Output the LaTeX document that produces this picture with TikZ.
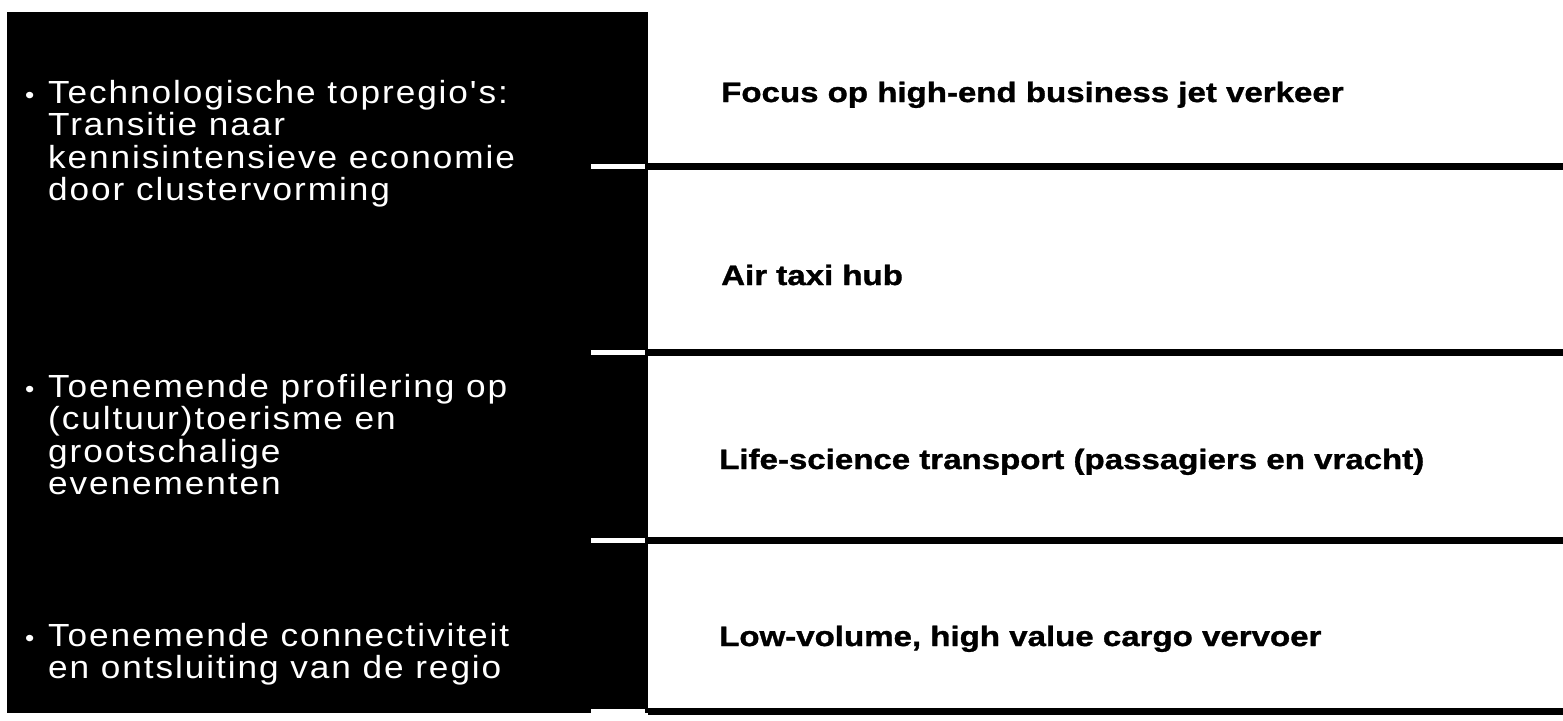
\documentclass[tikz,border=0pt]{standalone}
\usepackage{fontspec}
\setmainfont{Liberation Sans}
\newfontfamily\leftfont[LetterSpace=6,FakeStretch=1.1]{Liberation Sans}
\newfontfamily\rightfont[FakeStretch=1.18,FakeBold=1.2]{Liberation Sans}
\tikzset{
  panel/.style={fill=black, draw=none, inner sep=0pt, anchor=north west},
  bulletmark/.style={text=white, inner sep=0pt, anchor=base west, font=\leftfont\fontsize{24}{32}\selectfont},
  lefttxt/.style={text=white, inner sep=0pt, anchor=base west, align=left, font=\leftfont\fontsize{32}{32.5}\selectfont},
  righttxt/.style={text=black, inner sep=0pt, anchor=base west, font=\rightfont\bfseries\fontsize{28}{32}\selectfont},
  stub/.style={draw=white, line width=5pt},
  rule/.style={draw=black, line width=7pt}
}
\begin{document}
\begin{tikzpicture}[x=1pt,y=-1pt]
\useasboundingbox (0,0) rectangle (1563,720);
\fill[white] (0,0) rectangle (1563,720);
\node[panel, minimum width=641pt, minimum height=701pt] (box) at (7,12) {};

% separator lines
\foreach \i/\yy in {1/166,2/352,3/540,4/711}{
  \coordinate (sL\i) at (591,\yy);
  \coordinate (sR\i) at (645,\yy);
  \coordinate (rL\i) at (648,\yy);
  \coordinate (rR\i) at (1563,\yy);
  \draw[stub] (sL\i) -- (sR\i);
  \draw[rule] (rL\i) -- (rR\i);
}

% left column (node base = baseline of last line)
\node[bulletmark] (b1) at (25,103) {•};
\node[lefttxt] (t1) at (48,200.5) {Technologische topregio's:\\Transitie naar\\kennisintensieve economie\\door clustervorming};
\node[bulletmark] (b2) at (25,397) {•};
\node[lefttxt] (t2) at (48,494.5) {Toenemende profilering op\\(cultuur)toerisme en\\grootschalige\\evenementen};
\node[bulletmark] (b3) at (25,646) {•};
\node[lefttxt] (t3) at (48,678.5) {Toenemende connectiviteit\\en ontsluiting van de regio};

% right column
\node[righttxt] (r1) at (721,102) {Focus op high-end business jet verkeer};
\node[righttxt] (r2) at (721,285) {Air taxi hub};
\node[righttxt] (r3) at (719,469) {Life-science transport (passagiers en vracht)};
\node[righttxt] (r4) at (719,646) {Low-volume, high value cargo vervoer};
\end{tikzpicture}
\end{document}
